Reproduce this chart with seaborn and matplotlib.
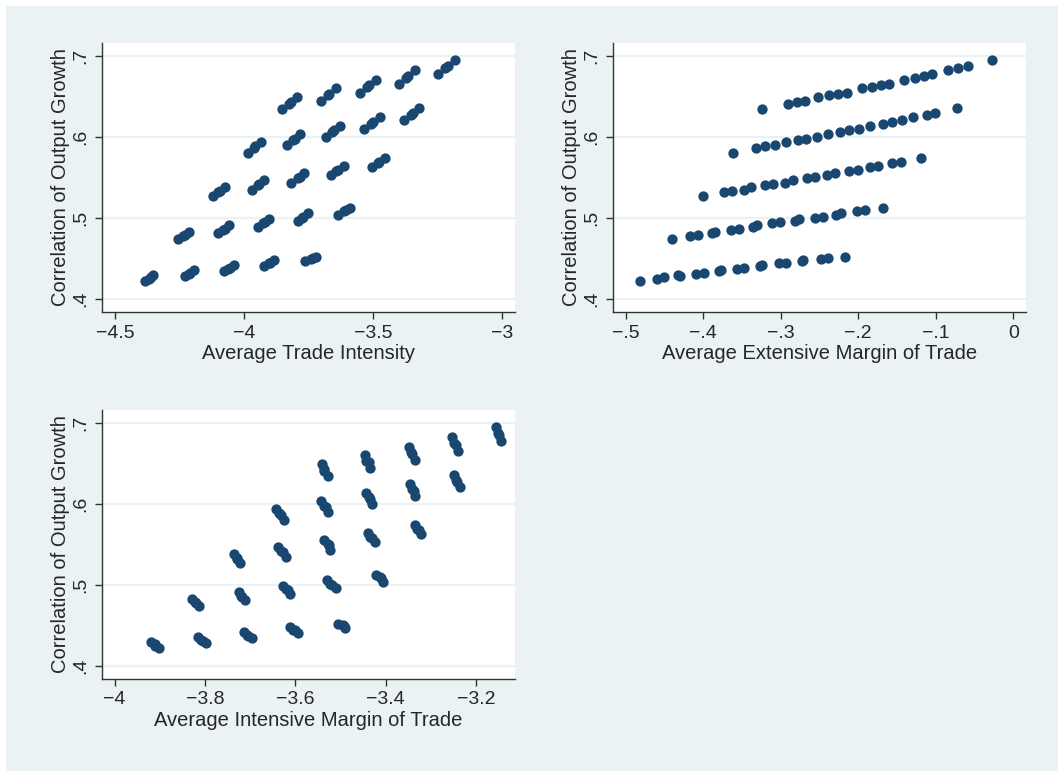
import pandas as pd
import seaborn as sns
import matplotlib.pyplot as plt
from matplotlib.patches import Rectangle

# one point per simulated economy, grouped 20 per line (5 groups of 4)
corr = [
    0.6347, 0.6412, 0.6437, 0.6499, 0.6445, 0.6515, 0.6531, 0.6601, 0.6548, 0.6618,
    0.6642, 0.6708, 0.6659, 0.6733, 0.6758, 0.6827, 0.6778, 0.6852, 0.6881, 0.6951,
    0.5808, 0.5870, 0.5886, 0.5944, 0.5899, 0.5960, 0.5981, 0.6034, 0.5997, 0.6063,
    0.6083, 0.6137, 0.6100, 0.6166, 0.6186, 0.6244, 0.6211, 0.6273, 0.6297, 0.6355,
    0.5274, 0.5319, 0.5340, 0.5385, 0.5352, 0.5405, 0.5422, 0.5471, 0.5438, 0.5496,
    0.5512, 0.5553, 0.5537, 0.5582, 0.5598, 0.5648, 0.5627, 0.5677, 0.5693, 0.5738,
    0.4744, 0.4781, 0.4797, 0.4834, 0.4813, 0.4855, 0.4871, 0.4912, 0.4892, 0.4937,
    0.4949, 0.4986, 0.4970, 0.5007, 0.5019, 0.5060, 0.5044, 0.5085, 0.5097, 0.5122,
    0.4222, 0.4254, 0.4271, 0.4296, 0.4283, 0.4316, 0.4328, 0.4361, 0.4349, 0.4378,
    0.4390, 0.4419, 0.4407, 0.4444, 0.4452, 0.4485, 0.4472, 0.4501, 0.4509, 0.4522,
]
trade_intensity = [
    -3.8514, -3.8265, -3.8170, -3.7933, -3.7028, -3.6755, -3.6694, -3.6421, -3.5504, -3.5238,
    -3.5147, -3.4897, -3.3992, -3.3719, -3.3627, -3.3372, -3.2494, -3.2206, -3.2094, -3.1822,
    -3.9858, -3.9628, -3.9569, -3.9354, -3.8346, -3.8107, -3.8025, -3.7817, -3.6835, -3.6573,
    -3.6494, -3.6279, -3.5336, -3.5064, -3.4981, -3.4742, -3.3786, -3.3535, -3.3439, -3.3204,
    -4.1214, -4.1020, -4.0930, -4.0736, -3.9677, -3.9476, -3.9411, -3.9225, -3.8165, -3.7911,
    -3.7841, -3.7661, -3.6628, -3.6424, -3.6351, -3.6124, -3.5052, -3.4825, -3.4752, -3.4548,
    -4.2545, -4.2370, -4.2294, -4.2119, -4.0995, -4.0814, -4.0745, -4.0568, -3.9470, -3.9260,
    -3.9204, -3.9031, -3.7920, -3.7750, -3.7695, -3.7506, -3.6344, -3.6106, -3.6036, -3.5891,
    -4.3837, -4.3697, -4.3623, -4.3514, -4.2287, -4.2134, -4.2078, -4.1925, -4.0762, -4.0607,
    -4.0543, -4.0388, -3.9212, -3.9028, -3.8988, -3.8824, -3.7636, -3.7396, -3.7330, -3.7222,
]
ext_margin = [
    -0.3239, -0.2912, -0.2796, -0.2516, -0.2693, -0.2378, -0.2266, -0.1956, -0.2150, -0.1827,
    -0.1707, -0.1410, -0.1599, -0.1272, -0.1151, -0.0846, -0.1044, -0.0708, -0.0587, -0.0277,
    -0.3614, -0.3321, -0.3209, -0.2938, -0.3080, -0.2779, -0.2671, -0.2396, -0.2538, -0.2236,
    -0.2120, -0.1844, -0.1991, -0.1685, -0.1569, -0.1289, -0.1435, -0.1117, -0.1005, -0.0721,
    -0.3997, -0.3734, -0.3631, -0.3386, -0.3476, -0.3201, -0.3101, -0.2848, -0.2942, -0.2667,
    -0.2559, -0.2301, -0.2400, -0.2116, -0.2008, -0.1741, -0.1844, -0.1560, -0.1453, -0.1190,
    -0.4406, -0.4165, -0.4070, -0.3842, -0.3885, -0.3640, -0.3536, -0.3312, -0.3360, -0.3110,
    -0.3007, -0.2770, -0.2817, -0.2563, -0.2460, -0.2219, -0.2288, -0.2012, -0.1913, -0.1677,
    -0.4815, -0.4595, -0.4509, -0.4320, -0.4303, -0.4087, -0.3993, -0.3777, -0.3795, -0.3558,
    -0.3472, -0.3248, -0.3265, -0.3020, -0.2938, -0.2714, -0.2731, -0.2486, -0.2391, -0.2172,
]
int_margin = [
    -3.5275, -3.5353, -3.5374, -3.5417, -3.4335, -3.4377, -3.4428, -3.4465, -3.3354, -3.3411,
    -3.3440, -3.3487, -3.2393, -3.2447, -3.2476, -3.2526, -3.1450, -3.1498, -3.1507, -3.1545,
    -3.6244, -3.6307, -3.6360, -3.6416, -3.5266, -3.5328, -3.5354, -3.5421, -3.4297, -3.4337,
    -3.4374, -3.4435, -3.3345, -3.3379, -3.3412, -3.3453, -3.2351, -3.2418, -3.2434, -3.2483,
    -3.7217, -3.7286, -3.7299, -3.7350, -3.6201, -3.6275, -3.6310, -3.6377, -3.5223, -3.5244,
    -3.5282, -3.5360, -3.4228, -3.4308, -3.4343, -3.4383, -3.3208, -3.3265, -3.3299, -3.3358,
    -3.8139, -3.8205, -3.8224, -3.8277, -3.7110, -3.7174, -3.7209, -3.7256, -3.6110, -3.6150,
    -3.6197, -3.6261, -3.5103, -3.5187, -3.5235, -3.5287, -3.4056, -3.4094, -3.4123, -3.4214,
    -3.9022, -3.9102, -3.9114, -3.9194, -3.7984, -3.8047, -3.8085, -3.8148, -3.6967, -3.7049,
    -3.7071, -3.7140, -3.5947, -3.6008, -3.6050, -3.6110, -3.4905, -3.4910, -3.4939, -3.5050,
]

y_ticks = [0.4, 0.5, 0.6, 0.7]
trade_ticks = [-4.5, -4, -3.5, -3]
ext_ticks = [-0.5, -0.4, -0.3, -0.2, -0.1, 0]
int_ticks = [-4, -3.8, -3.6, -3.4, -3.2]

df = pd.DataFrame({'corr': corr, 'trade': trade_intensity,
                   'ext': ext_margin, 'int': int_margin})

sns.set_style('white')
plt.rcParams['font.family'] = ['Liberation Sans', 'DejaVu Sans']

BG = '#EAF2F3'
DOT = '#1A476F'
W, H = 1058, 771


def stata_label(v):
    # .7 instead of 0.7, real minus sign
    s = f'{v:g}'
    if s.startswith('0.'):
        s = s[1:]
    elif s.startswith('-0.'):
        s = '-' + s[2:]
    return s.replace('-', '\u2212')


def panel(rect, xcol, xlabel, xticks, xlim):
    l, t, r, b = rect
    ax = fig.add_axes([l / W, 1 - b / H, (r - l) / W, (b - t) / H])
    ax.set_facecolor('white')
    sns.scatterplot(x=xcol, y='corr', data=df, ax=ax, color=DOT, s=55,
                    linewidth=0, zorder=3)
    ax.set_xlim(*xlim)
    ax.set_ylim(0.3843, 0.716)
    ax.set_xticks(xticks)
    ax.set_xticklabels([stata_label(v) for v in xticks])
    ax.set_yticks(y_ticks)
    ax.set_yticklabels([stata_label(v) for v in y_ticks], rotation=90, va='center')
    for v in y_ticks:
        ax.axhline(v, color=BG, lw=1.6, zorder=1)
    for side in ['top', 'right']:
        ax.spines[side].set_visible(False)
    for side in ['left', 'bottom']:
        ax.spines[side].set_color('#333333')
        ax.spines[side].set_linewidth(1.0)
    ax.tick_params(axis='both', direction='out', length=5, width=1,
                   color='#333333', labelsize=14, pad=4, left=True, bottom=True)
    ax.set_xlabel(xlabel, fontsize=14.5, labelpad=1.5)
    ax.set_ylabel('Correlation of Output Growth', fontsize=14.5, labelpad=2)
    return ax


fig = plt.figure(figsize=(W / 100, H / 100), dpi=100, facecolor='white')
# light blue-grey graph region, white strip along top and left edge
fig.patches.append(Rectangle((6 / W, 0), 1, 765 / H, transform=fig.transFigure,
                             facecolor=BG, edgecolor='none', zorder=-10))

panel((102, 43, 515, 312), 'trade', 'Average Trade Intensity', trade_ticks, (-4.5504, -2.9496))
panel((613, 43, 1026, 312), 'ext', 'Average Extensive Margin of Trade', ext_ticks, (-0.5164, 0.0164))
panel((102, 410, 515, 679), 'int', 'Average Intensive Margin of Trade', int_ticks, (-4.0279, -3.1135))

plt.savefig('out.png', dpi=100, facecolor='white')
